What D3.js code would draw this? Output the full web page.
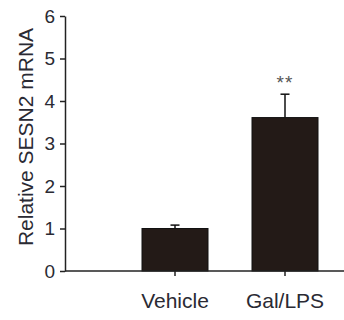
<!DOCTYPE html>
<html>
<head>
<meta charset="utf-8">
<script src="https://cdn.jsdelivr.net/npm/d3@7"></script>
<style>
  body { margin: 0; background: #fff; }
  svg { display: block; font-family: Arial, "Liberation Sans", sans-serif; }
</style>
</head>
<body>
<div id="chart"></div>
<script>
// values
const groups = ["Vehicle", "Gal/LPS"];
const means = [1.0, 3.61];
const errors = [0.08, 0.55];
const marks = ["", "**"];
const yTicks = [0, 1, 2, 3, 4, 5, 6];

const width = 344, height = 320;
const axisX = 65, axisY = 271;

const svg = d3.select("#chart").append("svg")
    .attr("width", width)
    .attr("height", height);

const x = d3.scaleBand()
    .domain(groups)
    .range([98, 362])
    .padding(0.4);

const y = d3.scaleLinear()
    .domain([0, 6])
    .range([axisY, 16]);

const data = groups.map((g, i) => ({ group: g, mean: means[i], err: errors[i], mark: marks[i] }));

// bars
svg.selectAll(".bar")
    .data(data)
    .enter()
    .append("rect")
    .attr("class", "bar")
    .attr("x", d => x(d.group))
    .attr("y", d => y(d.mean))
    .attr("width", x.bandwidth())
    .attr("height", d => y(0) - y(d.mean))
    .attr("fill", "#231a17")
    .attr("stroke", "#111")
    .attr("stroke-width", 1);

// error bars (upper only)
const eb = svg.selectAll(".err")
    .data(data)
    .enter()
    .append("g")
    .attr("class", "err")
    .attr("stroke", "#111")
    .attr("stroke-width", 1.5);

eb.append("line")
    .attr("x1", d => x(d.group) + x.bandwidth() / 2)
    .attr("x2", d => x(d.group) + x.bandwidth() / 2)
    .attr("y1", d => y(d.mean))
    .attr("y2", d => y(d.mean + d.err));

eb.append("line")
    .attr("x1", d => x(d.group) + x.bandwidth() / 2 - 4.5)
    .attr("x2", d => x(d.group) + x.bandwidth() / 2 + 4.5)
    .attr("y1", d => y(d.mean + d.err))
    .attr("y2", d => y(d.mean + d.err));

// significance marks
svg.selectAll(".sig")
    .data(data)
    .enter()
    .append("text")
    .attr("class", "sig")
    .attr("x", d => x(d.group) + x.bandwidth() / 2)
    .attr("y", 89)
    .attr("text-anchor", "middle")
    .attr("font-size", 19)
    .attr("letter-spacing", 1)
    .attr("fill", "#555")
    .text(d => d.mark);

// y axis
const yAxis = d3.axisLeft(y)
    .tickValues(yTicks)
    .tickFormat(d3.format("d"))
    .tickSize(5)
    .tickPadding(5)
    .tickSizeOuter(0);

const gy = svg.append("g")
    .attr("transform", `translate(${axisX},0)`)
    .call(yAxis);
gy.select(".domain").attr("stroke", "#222").attr("stroke-width", 1.5);
gy.selectAll(".tick line").attr("stroke", "#222").attr("stroke-width", 1.5);
gy.selectAll(".tick text")
    .attr("font-size", 19)
    .attr("fill", "#2a2a33")
    .style("font-family", "Arial, 'Liberation Sans', sans-serif");

// x axis
const xAxis = d3.axisBottom(x)
    .tickSize(5)
    .tickPadding(17)
    .tickSizeOuter(0);

const gx = svg.append("g")
    .attr("transform", `translate(0,${axisY})`)
    .call(xAxis);
gx.select(".domain").remove();
gx.append("line")
    .attr("x1", axisX)
    .attr("x2", width)
    .attr("stroke", "#222")
    .attr("stroke-width", 1.5);
gx.selectAll(".tick line").attr("stroke", "#222").attr("stroke-width", 1.5);
gx.selectAll(".tick text")
    .attr("font-size", 21)
    .attr("fill", "#2a2a33")
    .style("font-family", "Arial, 'Liberation Sans', sans-serif");

// y label
svg.append("text")
    .attr("transform", `translate(33,${(29 + 245) / 2}) rotate(-90)`)
    .attr("text-anchor", "middle")
    .attr("font-size", 21)
    .attr("fill", "#2a2a33")
    .text("Relative SESN2 mRNA");
</script>
</body>
</html>
